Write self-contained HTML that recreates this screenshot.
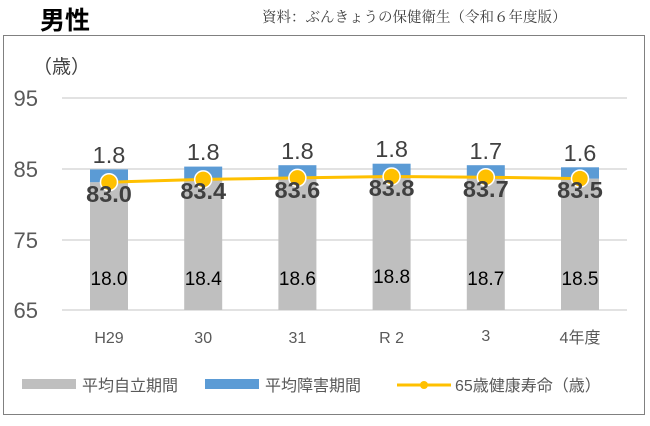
<!DOCTYPE html>
<html><head><meta charset="utf-8"><style>
body{margin:0;width:650px;height:421px;background:#fff;overflow:hidden}
svg text{font-family:"Liberation Sans","Noto Sans CJK JP",sans-serif}
</style></head><body>
<svg width="650" height="421" viewBox="0 0 650 421">
<text x="40" y="29" font-size="25" font-weight="bold" fill="#000">男性</text>
<text x="262" y="22" font-size="14.5" fill="#404040" style="font-family:'Liberation Serif','Noto Serif CJK SC',serif">資料：ぶんきょうの保健衛生（令和６年度版）</text>
<rect x="3.5" y="35.5" width="641" height="379" fill="none" stroke="#808080" stroke-width="1"/>
<text x="33" y="73" font-size="19" fill="#404040">（歳）</text>
<g stroke="#d9d9d9" stroke-width="1.5">
<line x1="62" y1="98" x2="627" y2="98"/><line x1="62" y1="169" x2="627" y2="169"/>
<line x1="62" y1="240" x2="627" y2="240"/><line x1="62" y1="310" x2="627" y2="310"/>
</g>
<g font-size="22" fill="#595959" text-anchor="end">
<text x="38" y="106">95</text><text x="38" y="177">85</text><text x="38" y="248">75</text><text x="38" y="318">65</text>
</g>
<g fill="#bfbfbf">
<rect x="90" y="182.2" width="38" height="127.8"/>
<rect x="184.2" y="179.4" width="38" height="130.6"/>
<rect x="278.4" y="177.9" width="38" height="132.1"/>
<rect x="372.6" y="176.5" width="38" height="133.5"/>
<rect x="466.8" y="177.2" width="38" height="132.8"/>
<rect x="561" y="178.6" width="38" height="131.4"/>
</g>
<g fill="#5b9bd5">
<rect x="90" y="169.4" width="38" height="12.8"/>
<rect x="184.2" y="166.6" width="38" height="12.8"/>
<rect x="278.4" y="165.2" width="38" height="12.7"/>
<rect x="372.6" y="163.7" width="38" height="12.8"/>
<rect x="466.8" y="165.2" width="38" height="12"/>
<rect x="561" y="167.3" width="38" height="11.3"/>
</g>
<g font-size="23.5" fill="#404040" text-anchor="middle">
<text x="109" y="163">1.8</text><text x="203.2" y="160">1.8</text><text x="297.4" y="159">1.8</text>
<text x="391.6" y="157">1.8</text><text x="485.8" y="159">1.7</text><text x="580" y="161">1.6</text>
</g>
<g font-size="19" fill="#000" text-anchor="middle">
<text x="109" y="285">18.0</text><text x="203.2" y="285">18.4</text><text x="297.4" y="285">18.6</text>
<text x="391.6" y="283">18.8</text><text x="485.8" y="285">18.7</text><text x="580" y="285">18.5</text>
</g>
<g font-size="16" fill="#595959" text-anchor="middle">
<text x="109" y="343">H29</text><text x="203.2" y="343">30</text><text x="297.4" y="343">31</text>
<text x="391.6" y="343">R 2</text><text x="485.8" y="341">3</text><text x="580" y="343">4年度</text>
</g>
<polyline points="109,182.2 203.2,179.4 297.4,177.9 391.6,176.5 485.8,177.2 580,178.6" fill="none" stroke="#ffc000" stroke-width="3"/>
<g fill="#ffc000" stroke="#fff" stroke-width="1.5">
<circle cx="109" cy="182.2" r="8.5"/><circle cx="203.2" cy="179.4" r="8.5"/><circle cx="297.4" cy="177.9" r="8.5"/>
<circle cx="391.6" cy="176.5" r="8.5"/><circle cx="485.8" cy="177.2" r="8.5"/><circle cx="580" cy="178.6" r="8.5"/>
</g>
<g font-size="23.5" font-weight="bold" fill="#404040" text-anchor="middle">
<text x="109" y="202">83.0</text><text x="203.2" y="199">83.4</text><text x="297.4" y="198">83.6</text>
<text x="391.6" y="196">83.8</text><text x="485.8" y="197">83.7</text><text x="580" y="198">83.5</text>
</g>
<rect x="22" y="379" width="54" height="10" fill="#bfbfbf"/>
<text x="82" y="391" font-size="16" fill="#595959">平均自立期間</text>
<rect x="205" y="379" width="54" height="10" fill="#5b9bd5"/>
<text x="265" y="391" font-size="16" fill="#595959">平均障害期間</text>
<line x1="397" y1="385" x2="451" y2="385" stroke="#ffc000" stroke-width="3"/>
<circle cx="424" cy="385" r="4" fill="#ffc000"/>
<text x="455" y="391" font-size="16" fill="#595959">65歳健康寿命（歳）</text>
</svg>
</body></html>
